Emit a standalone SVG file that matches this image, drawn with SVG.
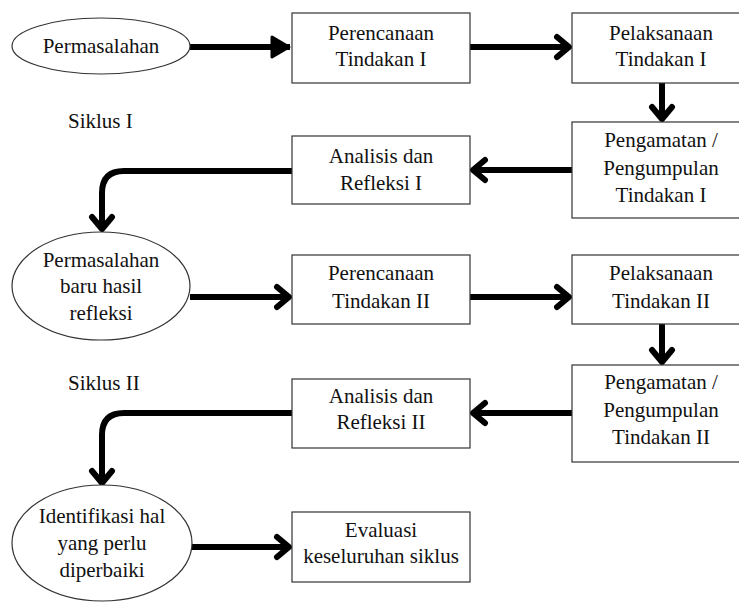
<svg xmlns="http://www.w3.org/2000/svg" width="739" height="602" viewBox="0 0 739 602">
<style>
.box{fill:#fff;stroke:#333;stroke-width:1.2}
text{font-family:'Liberation Serif',serif;font-size:21px;fill:#111}
.t{text-anchor:middle}
.c{fill:none;stroke:#000;stroke-width:6}
</style>
<defs>
<marker id="chev" markerUnits="userSpaceOnUse" markerWidth="40" markerHeight="40" viewBox="-25 -20 40 40" refX="0" refY="0" orient="auto" overflow="visible">
<path d="M-13,-10 L-1,0 L-13,10" fill="none" stroke="#000" stroke-width="6" stroke-linecap="round" stroke-linejoin="round"/>
</marker>
<marker id="tri" markerUnits="userSpaceOnUse" markerWidth="40" markerHeight="40" viewBox="-25 -20 40 40" refX="0" refY="0" orient="auto" overflow="visible">
<path d="M-18,-10 L-1,0 L-18,10 Z" fill="#000" stroke="#000" stroke-width="3" stroke-linejoin="round"/>
</marker>
</defs>

<g id="connectors">
<path class="c" d="M190,47 H290" marker-end="url(#tri)"/>
<path class="c" d="M470,47 H570" marker-end="url(#chev)"/>
<path class="c" d="M662,83 V120" marker-end="url(#chev)"/>
<path class="c" d="M572,170 H472" marker-end="url(#chev)"/>
<path class="c" d="M292,171 H124 Q102,171 102,193 V230" marker-end="url(#chev)"/>
<path class="c" d="M190,297 H290" marker-end="url(#chev)"/>
<path class="c" d="M470,297 H570" marker-end="url(#chev)"/>
<path class="c" d="M662,324 V363" marker-end="url(#chev)"/>
<path class="c" d="M572,413 H472" marker-end="url(#chev)"/>
<path class="c" d="M292,413 H124 Q102,413 102,435 V484" marker-end="url(#chev)"/>
<path class="c" d="M192,547 H290" marker-end="url(#chev)"/>
</g>

<g id="permasalahan">
<ellipse class="box" cx="101" cy="46" rx="89" ry="28"/>
<text class="t" x="101" y="53">Permasalahan</text>
</g>
<g id="perencanaan1">
<rect class="box" x="292" y="13" width="178" height="70"/>
<text class="t" x="381" y="40">Perencanaan</text>
<text class="t" x="381" y="66">Tindakan I</text>
</g>
<g id="pelaksanaan1">
<rect class="box" x="572" y="13" width="178" height="70"/>
<text class="t" x="661" y="40">Pelaksanaan</text>
<text class="t" x="661" y="66">Tindakan I</text>
</g>
<g id="pengamatan1">
<rect class="box" x="572" y="122" width="178" height="96"/>
<text class="t" x="661" y="147">Pengamatan /</text>
<text class="t" x="661" y="175">Pengumpulan</text>
<text class="t" x="661" y="202">Tindakan I</text>
</g>
<g id="analisis1">
<rect class="box" x="292" y="136" width="178" height="68"/>
<text class="t" x="381" y="163">Analisis dan</text>
<text class="t" x="381" y="190">Refleksi I</text>
</g>
<g id="siklus1">
<text x="68" y="128">Siklus I</text>
</g>

<g id="permasalahan2">
<ellipse class="box" cx="101" cy="286" rx="89" ry="54"/>
<text class="t" x="101" y="267">Permasalahan</text>
<text class="t" x="101" y="293">baru hasil</text>
<text class="t" x="101" y="320">refleksi</text>
</g>
<g id="perencanaan2">
<rect class="box" x="292" y="255" width="178" height="69"/>
<text class="t" x="381" y="280">Perencanaan</text>
<text class="t" x="381" y="308">Tindakan II</text>
</g>
<g id="pelaksanaan2">
<rect class="box" x="572" y="255" width="178" height="69"/>
<text class="t" x="661" y="280">Pelaksanaan</text>
<text class="t" x="661" y="308">Tindakan II</text>
</g>
<g id="pengamatan2">
<rect class="box" x="572" y="365" width="178" height="97"/>
<text class="t" x="661" y="389">Pengamatan /</text>
<text class="t" x="661" y="417">Pengumpulan</text>
<text class="t" x="661" y="444">Tindakan II</text>
</g>
<g id="analisis2">
<rect class="box" x="292" y="379" width="178" height="69"/>
<text class="t" x="381" y="403">Analisis dan</text>
<text class="t" x="381" y="429">Refleksi II</text>
</g>
<g id="siklus2">
<text x="68" y="390">Siklus II</text>
</g>

<g id="identifikasi">
<ellipse class="box" cx="102" cy="543" rx="90" ry="58"/>
<text class="t" x="102" y="523">Identifikasi hal</text>
<text class="t" x="102" y="550">yang perlu</text>
<text class="t" x="102" y="577">diperbaiki</text>
</g>
<g id="evaluasi">
<rect class="box" x="292" y="512" width="178" height="70"/>
<text class="t" x="381" y="537">Evaluasi</text>
<text class="t" x="381" y="563">keseluruhan siklus</text>
</g>
</svg>
